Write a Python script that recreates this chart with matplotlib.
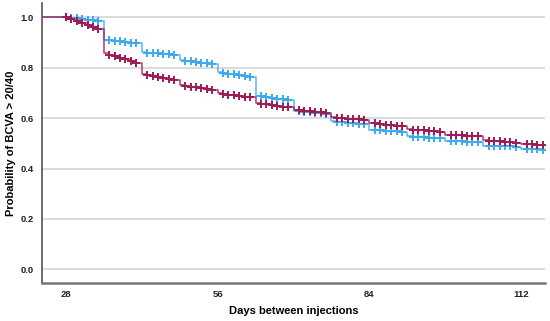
import matplotlib
matplotlib.use("Agg")
import matplotlib.pyplot as plt

# survival estimates, one value per day from day 28 to day 116
days = list(range(28, 117))

red_surv = [
    1.000, 0.993, 0.986, 0.978, 0.970, 0.962, 0.955,
    0.858, 0.852, 0.846, 0.840, 0.833, 0.826, 0.819,
    0.775, 0.771, 0.767, 0.763, 0.759, 0.755, 0.750,
    0.732, 0.728, 0.725, 0.722, 0.719, 0.716, 0.712,
    0.699, 0.696, 0.693, 0.690, 0.688, 0.685, 0.683,
    0.661, 0.658, 0.655, 0.652, 0.649, 0.646, 0.643,
    0.634, 0.632, 0.630, 0.628, 0.625, 0.623, 0.620,
    0.603, 0.601, 0.600, 0.598, 0.597, 0.595, 0.593,
    0.581, 0.579, 0.576, 0.574, 0.572, 0.570, 0.567,
    0.557, 0.555, 0.553, 0.552, 0.550, 0.548, 0.546,
    0.535, 0.534, 0.533, 0.532, 0.531, 0.530, 0.529,
    0.512, 0.511, 0.509, 0.508, 0.506, 0.505, 0.503,
    0.498, 0.497, 0.496, 0.495, 0.494,
]

blue_surv = [
    1.000, 0.998, 0.996, 0.993, 0.991, 0.988, 0.985,
    0.912, 0.910, 0.907, 0.905, 0.903, 0.900, 0.898,
    0.862, 0.860, 0.859, 0.857, 0.855, 0.853, 0.851,
    0.829, 0.827, 0.825, 0.822, 0.820, 0.818, 0.815,
    0.783, 0.780, 0.777, 0.774, 0.771, 0.768, 0.765,
    0.688, 0.686, 0.683, 0.681, 0.678, 0.676, 0.673,
    0.630, 0.628, 0.626, 0.623, 0.621, 0.619, 0.616,
    0.588, 0.586, 0.584, 0.582, 0.580, 0.578, 0.576,
    0.555, 0.554, 0.553, 0.551, 0.550, 0.549, 0.547,
    0.528, 0.527, 0.526, 0.524, 0.523, 0.522, 0.520,
    0.511, 0.510, 0.509, 0.508, 0.507, 0.506, 0.505,
    0.491, 0.490, 0.490, 0.489, 0.488, 0.488, 0.487,
    0.478, 0.477, 0.477, 0.476, 0.475,
]

x_ticks = [28, 56, 84, 112]
y_ticks = [0.0, 0.2, 0.4, 0.6, 0.8, 1.0]

BLUE = "#3aaaf2"
RED = "#a01a55"

plt.rcParams["font.family"] = ["Liberation Sans", "DejaVu Sans"]

fig = plt.figure(figsize=(5.5, 3.21), dpi=100)
ax = fig.add_axes([0.0764, 0.1184, 0.9146, 0.8723])

# censored marks on every day except the weekly event days
mark_idx = [i for i, d in enumerate(days) if d % 7 != 0 or d == 28]

for surv, col in [(blue_surv, BLUE), (red_surv, RED)]:
    ax.step([20] + days, [surv[0]] + surv, where="post", color=col, lw=1.1, alpha=0.85, zorder=3)
    ax.plot([days[i] for i in mark_idx], [surv[i] for i in mark_idx], ls="none",
            marker="+", ms=6, mew=1.4, color=col, zorder=4)

ax.set_xlim(23.6, 116.4)
ax.set_ylim(-0.054, 1.057)
ax.set_xticks(x_ticks)
ax.set_yticks(y_ticks)
ax.set_yticklabels([f"{v:.1f}" for v in y_ticks])
ax.tick_params(length=0, labelsize=6.8, colors="#222222")
ax.tick_params(axis="x", pad=5)
ax.tick_params(axis="y", pad=6)
for lab in ax.get_xticklabels() + ax.get_yticklabels():
    lab.set_fontweight("bold")

ax.grid(axis="y", color="#d9d9d9", lw=1.3)
ax.set_axisbelow(True)
for s in ["top", "right"]:
    ax.spines[s].set_visible(False)
ax.spines["left"].set_color("#555555")
ax.spines["bottom"].set_color("#777777")
ax.spines["left"].set_linewidth(1.2)
ax.spines["bottom"].set_linewidth(1.8)

ax.set_xlabel("Days between injections", fontsize=8, fontweight="bold", labelpad=5)
ax.set_ylabel("Probability of BCVA > 20/40", fontsize=8, fontweight="bold", labelpad=3)

fig.savefig("out.png", dpi=100)
